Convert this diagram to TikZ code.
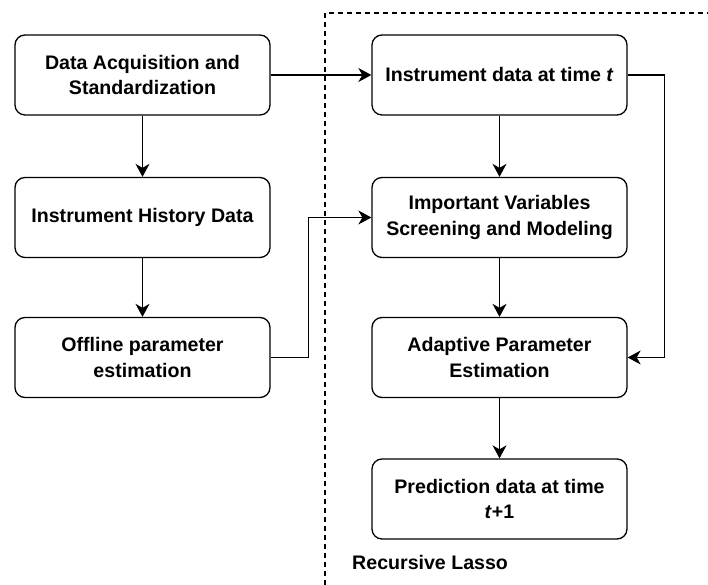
\documentclass[tikz,border=0pt]{standalone}
\usepackage{fontspec}
\setmainfont{Liberation Sans}
\usetikzlibrary{arrows.meta}
\begin{document}
\begin{tikzpicture}[x=1pt,y=1pt,
  box/.style={draw, line width=1.3pt, rounded corners=10pt, minimum width=255pt, minimum height=80pt, align=center, inner sep=0pt, font=\fontsize{19.6}{25.5}\selectfont\bfseries},
  conn/.style={line width=1.2pt, -{Stealth[length=13pt,width=14pt,inset=4pt]}},
  lbl/.style={font=\fontsize{19.6}{25.5}\selectfont\bfseries, inner sep=0pt, anchor=west}]
\useasboundingbox (0,0) rectangle (708,585);
\node[box] (acq) at (142.5,510) {Data Acquisition and\\Standardization};
\node[box] (hist) at (142.5,367.5) {Instrument History Data};
\node[box] (off) at (142.5,227.5) {Offline parameter\\estimation};
\node[box] (inst) at (499.5,510) {Instrument data at time \textit{t}};
\node[box] (imp) at (499.5,367.5) {Important Variables\\Screening and Modeling};
\node[box] (adp) at (499.5,227.5) {Adaptive Parameter\\Estimation};
\node[box] (pred) at (499.5,86) {Prediction data at time\\\textit{t}+1};
\coordinate (dbot) at (325,0);
\coordinate (dtop) at (325,572);
\coordinate (dright) at (708,572);
\draw[line width=1.2pt, dash pattern=on 5pt off 4pt] (dbot) -- (dtop) -- (dright);
\node[lbl] (rl) at (352,23) {Recursive Lasso};
\draw[conn] (acq) -- (hist);
\draw[conn] (hist) -- (off);
\draw[conn] (acq) -- (inst);
\draw[conn] (inst) -- (imp);
\draw[conn] (imp) -- (adp);
\draw[conn] (adp) -- (pred);
\draw[conn] (off.east) -- ++(38,0) |- (imp.west);
\draw[conn] (inst.east) -- ++(37,0) |- (adp.east);
\end{tikzpicture}
\end{document}
